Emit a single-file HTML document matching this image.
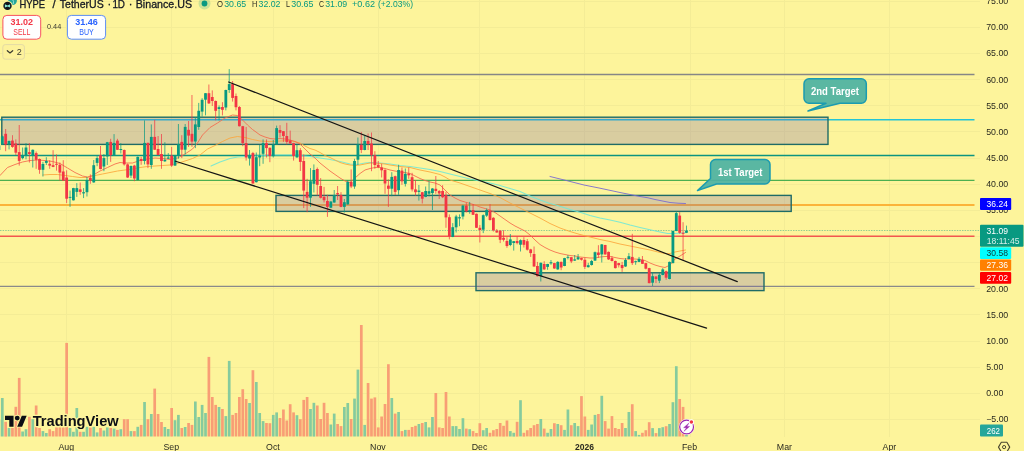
<!DOCTYPE html>
<html><head><meta charset="utf-8"><title>HYPE / TetherUS chart</title>
<style>
html,body{margin:0;padding:0;background:#fdf49b;overflow:hidden}
body{width:1024px;height:451px;position:relative;font-family:"Liberation Sans",sans-serif}
svg{position:absolute;left:0;top:0;display:block;will-change:transform;opacity:0.999}
text{font-family:"Liberation Sans",sans-serif}
</style></head><body>
<svg width="1024" height="451" viewBox="0 0 1024 451">
<rect width="1024" height="451" fill="#fdf49b"/>

<g stroke="#f4ec96" stroke-width="1">
<line x1="66.5" y1="0" x2="66.5" y2="437"/>
<line x1="171.5" y1="0" x2="171.5" y2="437"/>
<line x1="273.5" y1="0" x2="273.5" y2="437"/>
<line x1="378.5" y1="0" x2="378.5" y2="437"/>
<line x1="479.5" y1="0" x2="479.5" y2="437"/>
<line x1="584.5" y1="0" x2="584.5" y2="437"/>
<line x1="690.5" y1="0" x2="690.5" y2="437"/>
<line x1="784.5" y1="0" x2="784.5" y2="437"/>
<line x1="889.5" y1="0" x2="889.5" y2="437"/>
<line x1="0" y1="419.5" x2="980" y2="419.5"/>
<line x1="0" y1="393.5" x2="980" y2="393.5"/>
<line x1="0" y1="367.5" x2="980" y2="367.5"/>
<line x1="0" y1="341.5" x2="980" y2="341.5"/>
<line x1="0" y1="314.5" x2="980" y2="314.5"/>
<line x1="0" y1="288.5" x2="980" y2="288.5"/>
<line x1="0" y1="262.5" x2="980" y2="262.5"/>
<line x1="0" y1="236.5" x2="980" y2="236.5"/>
<line x1="0" y1="210.5" x2="980" y2="210.5"/>
<line x1="0" y1="184.5" x2="980" y2="184.5"/>
<line x1="0" y1="158.5" x2="980" y2="158.5"/>
<line x1="0" y1="131.5" x2="980" y2="131.5"/>
<line x1="0" y1="105.5" x2="980" y2="105.5"/>
<line x1="0" y1="79.5" x2="980" y2="79.5"/>
<line x1="0" y1="53.5" x2="980" y2="53.5"/>
<line x1="0" y1="27.5" x2="980" y2="27.5"/>
<line x1="0" y1="1.5" x2="980" y2="1.5"/>
</g>
<g>
<rect x="-2.45" y="420.0" width="2.7" height="16.5" fill="#86cb9d"/>
<rect x="0.94" y="398.0" width="2.7" height="38.5" fill="#86cb9d"/>
<rect x="4.32" y="421.8" width="2.7" height="14.8" fill="#f89e75"/>
<rect x="7.71" y="428.0" width="2.7" height="8.5" fill="#86cb9d"/>
<rect x="11.10" y="428.0" width="2.7" height="8.5" fill="#f89e75"/>
<rect x="14.48" y="406.8" width="2.7" height="29.8" fill="#f89e75"/>
<rect x="17.87" y="377.9" width="2.7" height="58.6" fill="#f89e75"/>
<rect x="21.26" y="431.5" width="2.7" height="5.0" fill="#86cb9d"/>
<rect x="24.65" y="429.2" width="2.7" height="7.2" fill="#86cb9d"/>
<rect x="28.03" y="416.8" width="2.7" height="19.8" fill="#f89e75"/>
<rect x="31.42" y="419.2" width="2.7" height="17.2" fill="#86cb9d"/>
<rect x="34.81" y="405.5" width="2.7" height="31.0" fill="#f89e75"/>
<rect x="38.19" y="428.0" width="2.7" height="8.5" fill="#f89e75"/>
<rect x="41.58" y="431.1" width="2.7" height="5.4" fill="#86cb9d"/>
<rect x="44.97" y="433.0" width="2.7" height="3.5" fill="#86cb9d"/>
<rect x="48.35" y="429.2" width="2.7" height="7.2" fill="#f89e75"/>
<rect x="51.74" y="431.1" width="2.7" height="5.4" fill="#f89e75"/>
<rect x="55.13" y="427.4" width="2.7" height="9.1" fill="#f89e75"/>
<rect x="58.52" y="427.4" width="2.7" height="9.1" fill="#f89e75"/>
<rect x="61.90" y="427.4" width="2.7" height="9.1" fill="#f89e75"/>
<rect x="65.29" y="342.9" width="2.7" height="93.6" fill="#f89e75"/>
<rect x="68.68" y="428.0" width="2.7" height="8.5" fill="#86cb9d"/>
<rect x="72.06" y="431.8" width="2.7" height="4.8" fill="#86cb9d"/>
<rect x="75.45" y="408.0" width="2.7" height="28.5" fill="#86cb9d"/>
<rect x="78.84" y="431.8" width="2.7" height="4.8" fill="#f89e75"/>
<rect x="82.22" y="431.8" width="2.7" height="4.8" fill="#86cb9d"/>
<rect x="85.61" y="426.8" width="2.7" height="9.8" fill="#86cb9d"/>
<rect x="89.00" y="427.4" width="2.7" height="9.1" fill="#f89e75"/>
<rect x="92.39" y="426.8" width="2.7" height="9.8" fill="#86cb9d"/>
<rect x="95.77" y="432.4" width="2.7" height="4.1" fill="#86cb9d"/>
<rect x="99.16" y="428.0" width="2.7" height="8.5" fill="#f89e75"/>
<rect x="102.55" y="430.5" width="2.7" height="6.0" fill="#86cb9d"/>
<rect x="105.93" y="427.4" width="2.7" height="9.1" fill="#86cb9d"/>
<rect x="109.32" y="428.0" width="2.7" height="8.5" fill="#f89e75"/>
<rect x="112.71" y="428.6" width="2.7" height="7.9" fill="#86cb9d"/>
<rect x="116.09" y="429.9" width="2.7" height="6.6" fill="#f89e75"/>
<rect x="119.48" y="429.2" width="2.7" height="7.2" fill="#86cb9d"/>
<rect x="122.87" y="419.2" width="2.7" height="17.2" fill="#f89e75"/>
<rect x="126.26" y="419.2" width="2.7" height="17.2" fill="#f89e75"/>
<rect x="129.64" y="431.1" width="2.7" height="5.4" fill="#86cb9d"/>
<rect x="133.03" y="431.1" width="2.7" height="5.4" fill="#f89e75"/>
<rect x="136.42" y="426.8" width="2.7" height="9.8" fill="#86cb9d"/>
<rect x="139.80" y="424.9" width="2.7" height="11.6" fill="#f89e75"/>
<rect x="143.19" y="402.0" width="2.7" height="34.5" fill="#86cb9d"/>
<rect x="146.58" y="419.2" width="2.7" height="17.2" fill="#f89e75"/>
<rect x="149.96" y="414.0" width="2.7" height="22.5" fill="#86cb9d"/>
<rect x="153.35" y="388.6" width="2.7" height="47.9" fill="#f89e75"/>
<rect x="156.74" y="414.0" width="2.7" height="22.5" fill="#f89e75"/>
<rect x="160.13" y="422.0" width="2.7" height="14.5" fill="#f89e75"/>
<rect x="163.51" y="427.0" width="2.7" height="9.5" fill="#86cb9d"/>
<rect x="166.90" y="429.0" width="2.7" height="7.5" fill="#86cb9d"/>
<rect x="170.29" y="408.0" width="2.7" height="28.5" fill="#f89e75"/>
<rect x="173.67" y="420.2" width="2.7" height="16.2" fill="#86cb9d"/>
<rect x="177.06" y="414.9" width="2.7" height="21.6" fill="#86cb9d"/>
<rect x="180.45" y="428.0" width="2.7" height="8.5" fill="#f89e75"/>
<rect x="183.83" y="427.0" width="2.7" height="9.5" fill="#86cb9d"/>
<rect x="187.22" y="423.0" width="2.7" height="13.5" fill="#f89e75"/>
<rect x="190.61" y="424.9" width="2.7" height="11.6" fill="#f89e75"/>
<rect x="194.00" y="401.5" width="2.7" height="35.0" fill="#86cb9d"/>
<rect x="197.38" y="417.0" width="2.7" height="19.5" fill="#86cb9d"/>
<rect x="200.77" y="404.9" width="2.7" height="31.6" fill="#86cb9d"/>
<rect x="204.16" y="413.0" width="2.7" height="23.5" fill="#86cb9d"/>
<rect x="207.54" y="356.9" width="2.7" height="79.6" fill="#f89e75"/>
<rect x="210.93" y="397.0" width="2.7" height="39.5" fill="#f89e75"/>
<rect x="214.32" y="404.9" width="2.7" height="31.6" fill="#f89e75"/>
<rect x="217.70" y="407.0" width="2.7" height="29.5" fill="#86cb9d"/>
<rect x="221.09" y="409.0" width="2.7" height="27.5" fill="#f89e75"/>
<rect x="224.48" y="416.1" width="2.7" height="20.4" fill="#86cb9d"/>
<rect x="227.87" y="360.9" width="2.7" height="75.6" fill="#86cb9d"/>
<rect x="231.25" y="414.9" width="2.7" height="21.6" fill="#f89e75"/>
<rect x="234.64" y="413.0" width="2.7" height="23.5" fill="#f89e75"/>
<rect x="238.03" y="397.0" width="2.7" height="39.5" fill="#f89e75"/>
<rect x="241.41" y="389.2" width="2.7" height="47.2" fill="#f89e75"/>
<rect x="244.80" y="399.0" width="2.7" height="37.5" fill="#f89e75"/>
<rect x="248.19" y="403.0" width="2.7" height="33.5" fill="#86cb9d"/>
<rect x="251.57" y="370.2" width="2.7" height="66.3" fill="#f89e75"/>
<rect x="254.96" y="382.0" width="2.7" height="54.5" fill="#86cb9d"/>
<rect x="258.35" y="413.0" width="2.7" height="23.5" fill="#86cb9d"/>
<rect x="261.74" y="421.1" width="2.7" height="15.4" fill="#86cb9d"/>
<rect x="265.12" y="423.0" width="2.7" height="13.5" fill="#f89e75"/>
<rect x="268.51" y="423.2" width="2.7" height="13.2" fill="#f89e75"/>
<rect x="271.90" y="414.9" width="2.7" height="21.6" fill="#86cb9d"/>
<rect x="275.28" y="412.4" width="2.7" height="24.1" fill="#86cb9d"/>
<rect x="278.67" y="418.0" width="2.7" height="18.5" fill="#f89e75"/>
<rect x="282.06" y="409.5" width="2.7" height="27.0" fill="#f89e75"/>
<rect x="285.44" y="420.5" width="2.7" height="16.0" fill="#f89e75"/>
<rect x="288.83" y="404.2" width="2.7" height="32.2" fill="#f89e75"/>
<rect x="292.22" y="412.4" width="2.7" height="24.1" fill="#f89e75"/>
<rect x="295.61" y="415.2" width="2.7" height="21.2" fill="#86cb9d"/>
<rect x="298.99" y="419.2" width="2.7" height="17.2" fill="#f89e75"/>
<rect x="302.38" y="399.9" width="2.7" height="36.6" fill="#f89e75"/>
<rect x="305.77" y="397.0" width="2.7" height="39.5" fill="#f89e75"/>
<rect x="309.15" y="409.0" width="2.7" height="27.5" fill="#86cb9d"/>
<rect x="312.54" y="402.8" width="2.7" height="33.8" fill="#86cb9d"/>
<rect x="315.93" y="405.5" width="2.7" height="31.0" fill="#f89e75"/>
<rect x="319.31" y="419.0" width="2.7" height="17.5" fill="#f89e75"/>
<rect x="322.70" y="402.8" width="2.7" height="33.8" fill="#f89e75"/>
<rect x="326.09" y="413.0" width="2.7" height="23.5" fill="#f89e75"/>
<rect x="329.48" y="424.5" width="2.7" height="12.0" fill="#86cb9d"/>
<rect x="332.86" y="413.6" width="2.7" height="22.9" fill="#86cb9d"/>
<rect x="336.25" y="424.0" width="2.7" height="12.5" fill="#f89e75"/>
<rect x="339.64" y="426.1" width="2.7" height="10.4" fill="#f89e75"/>
<rect x="343.02" y="407.0" width="2.7" height="29.5" fill="#86cb9d"/>
<rect x="346.41" y="403.0" width="2.7" height="33.5" fill="#86cb9d"/>
<rect x="349.80" y="419.0" width="2.7" height="17.5" fill="#f89e75"/>
<rect x="353.18" y="398.6" width="2.7" height="37.9" fill="#86cb9d"/>
<rect x="356.57" y="369.6" width="2.7" height="66.9" fill="#86cb9d"/>
<rect x="359.96" y="325.0" width="2.7" height="111.5" fill="#f89e75"/>
<rect x="363.35" y="424.9" width="2.7" height="11.6" fill="#86cb9d"/>
<rect x="366.73" y="383.0" width="2.7" height="53.5" fill="#f89e75"/>
<rect x="370.12" y="398.6" width="2.7" height="37.9" fill="#f89e75"/>
<rect x="373.51" y="397.4" width="2.7" height="39.1" fill="#f89e75"/>
<rect x="376.89" y="427.4" width="2.7" height="9.1" fill="#f89e75"/>
<rect x="380.28" y="416.5" width="2.7" height="20.0" fill="#f89e75"/>
<rect x="383.67" y="404.0" width="2.7" height="32.5" fill="#f89e75"/>
<rect x="387.05" y="364.2" width="2.7" height="72.3" fill="#f89e75"/>
<rect x="390.44" y="398.0" width="2.7" height="38.5" fill="#86cb9d"/>
<rect x="393.83" y="413.6" width="2.7" height="22.9" fill="#f89e75"/>
<rect x="397.22" y="412.0" width="2.7" height="24.5" fill="#86cb9d"/>
<rect x="400.60" y="431.1" width="2.7" height="5.4" fill="#f89e75"/>
<rect x="403.99" y="429.9" width="2.7" height="6.6" fill="#86cb9d"/>
<rect x="407.38" y="429.9" width="2.7" height="6.6" fill="#f89e75"/>
<rect x="410.76" y="427.0" width="2.7" height="9.5" fill="#f89e75"/>
<rect x="414.15" y="425.8" width="2.7" height="10.8" fill="#f89e75"/>
<rect x="417.54" y="424.0" width="2.7" height="12.5" fill="#86cb9d"/>
<rect x="420.92" y="423.0" width="2.7" height="13.5" fill="#f89e75"/>
<rect x="424.31" y="422.0" width="2.7" height="14.5" fill="#86cb9d"/>
<rect x="427.70" y="427.4" width="2.7" height="9.1" fill="#86cb9d"/>
<rect x="431.09" y="417.0" width="2.7" height="19.5" fill="#86cb9d"/>
<rect x="434.47" y="393.0" width="2.7" height="43.5" fill="#f89e75"/>
<rect x="437.86" y="427.4" width="2.7" height="9.1" fill="#f89e75"/>
<rect x="441.25" y="428.0" width="2.7" height="8.5" fill="#f89e75"/>
<rect x="444.63" y="392.0" width="2.7" height="44.5" fill="#f89e75"/>
<rect x="448.02" y="416.5" width="2.7" height="20.0" fill="#f89e75"/>
<rect x="451.41" y="426.1" width="2.7" height="10.4" fill="#86cb9d"/>
<rect x="454.79" y="426.1" width="2.7" height="10.4" fill="#86cb9d"/>
<rect x="458.18" y="429.0" width="2.7" height="7.5" fill="#86cb9d"/>
<rect x="461.57" y="418.2" width="2.7" height="18.2" fill="#86cb9d"/>
<rect x="464.95" y="428.6" width="2.7" height="7.9" fill="#f89e75"/>
<rect x="468.34" y="429.2" width="2.7" height="7.2" fill="#86cb9d"/>
<rect x="471.73" y="431.1" width="2.7" height="5.4" fill="#f89e75"/>
<rect x="475.12" y="433.0" width="2.7" height="3.5" fill="#f89e75"/>
<rect x="478.50" y="423.2" width="2.7" height="13.2" fill="#f89e75"/>
<rect x="481.89" y="430.2" width="2.7" height="6.2" fill="#86cb9d"/>
<rect x="485.28" y="428.0" width="2.7" height="8.5" fill="#86cb9d"/>
<rect x="488.66" y="432.8" width="2.7" height="3.8" fill="#f89e75"/>
<rect x="492.05" y="430.2" width="2.7" height="6.2" fill="#f89e75"/>
<rect x="495.44" y="429.0" width="2.7" height="7.5" fill="#f89e75"/>
<rect x="498.82" y="423.0" width="2.7" height="13.5" fill="#f89e75"/>
<rect x="502.21" y="425.8" width="2.7" height="10.8" fill="#f89e75"/>
<rect x="505.60" y="420.5" width="2.7" height="16.0" fill="#f89e75"/>
<rect x="508.99" y="431.1" width="2.7" height="5.4" fill="#86cb9d"/>
<rect x="512.37" y="432.8" width="2.7" height="3.8" fill="#86cb9d"/>
<rect x="515.76" y="421.8" width="2.7" height="14.8" fill="#f89e75"/>
<rect x="519.15" y="400.2" width="2.7" height="36.2" fill="#86cb9d"/>
<rect x="522.53" y="432.8" width="2.7" height="3.8" fill="#f89e75"/>
<rect x="525.92" y="430.2" width="2.7" height="6.2" fill="#f89e75"/>
<rect x="529.31" y="428.0" width="2.7" height="8.5" fill="#f89e75"/>
<rect x="532.70" y="425.2" width="2.7" height="11.2" fill="#f89e75"/>
<rect x="536.08" y="424.0" width="2.7" height="12.5" fill="#f89e75"/>
<rect x="539.47" y="419.0" width="2.7" height="17.5" fill="#86cb9d"/>
<rect x="542.86" y="428.6" width="2.7" height="7.9" fill="#f89e75"/>
<rect x="546.24" y="432.8" width="2.7" height="3.8" fill="#86cb9d"/>
<rect x="549.63" y="429.0" width="2.7" height="7.5" fill="#86cb9d"/>
<rect x="553.02" y="423.2" width="2.7" height="13.2" fill="#f89e75"/>
<rect x="556.40" y="424.0" width="2.7" height="12.5" fill="#86cb9d"/>
<rect x="559.79" y="425.2" width="2.7" height="11.2" fill="#f89e75"/>
<rect x="563.18" y="429.9" width="2.7" height="6.6" fill="#86cb9d"/>
<rect x="566.57" y="409.5" width="2.7" height="27.0" fill="#86cb9d"/>
<rect x="569.95" y="425.2" width="2.7" height="11.2" fill="#f89e75"/>
<rect x="573.34" y="423.0" width="2.7" height="13.5" fill="#86cb9d"/>
<rect x="576.73" y="426.1" width="2.7" height="10.4" fill="#86cb9d"/>
<rect x="580.11" y="396.1" width="2.7" height="40.4" fill="#f89e75"/>
<rect x="583.50" y="416.5" width="2.7" height="20.0" fill="#f89e75"/>
<rect x="586.89" y="429.9" width="2.7" height="6.6" fill="#86cb9d"/>
<rect x="590.27" y="424.5" width="2.7" height="12.0" fill="#86cb9d"/>
<rect x="593.66" y="414.9" width="2.7" height="21.6" fill="#86cb9d"/>
<rect x="597.05" y="414.0" width="2.7" height="22.5" fill="#f89e75"/>
<rect x="600.43" y="395.8" width="2.7" height="40.8" fill="#86cb9d"/>
<rect x="603.82" y="421.1" width="2.7" height="15.4" fill="#f89e75"/>
<rect x="607.21" y="428.6" width="2.7" height="7.9" fill="#f89e75"/>
<rect x="610.60" y="416.1" width="2.7" height="20.4" fill="#f89e75"/>
<rect x="613.98" y="428.0" width="2.7" height="8.5" fill="#f89e75"/>
<rect x="617.37" y="429.0" width="2.7" height="7.5" fill="#f89e75"/>
<rect x="620.76" y="423.0" width="2.7" height="13.5" fill="#f89e75"/>
<rect x="624.14" y="428.0" width="2.7" height="8.5" fill="#86cb9d"/>
<rect x="627.53" y="412.0" width="2.7" height="24.5" fill="#86cb9d"/>
<rect x="630.92" y="404.2" width="2.7" height="32.2" fill="#f89e75"/>
<rect x="634.30" y="431.1" width="2.7" height="5.4" fill="#86cb9d"/>
<rect x="637.69" y="434.9" width="2.7" height="1.6" fill="#86cb9d"/>
<rect x="641.08" y="432.8" width="2.7" height="3.8" fill="#f89e75"/>
<rect x="644.47" y="430.2" width="2.7" height="6.2" fill="#f89e75"/>
<rect x="647.85" y="422.2" width="2.7" height="14.2" fill="#f89e75"/>
<rect x="651.24" y="428.1" width="2.7" height="8.4" fill="#86cb9d"/>
<rect x="654.63" y="433.1" width="2.7" height="3.4" fill="#f89e75"/>
<rect x="658.01" y="428.1" width="2.7" height="8.4" fill="#86cb9d"/>
<rect x="661.40" y="427.2" width="2.7" height="9.2" fill="#86cb9d"/>
<rect x="664.79" y="426.2" width="2.7" height="10.2" fill="#f89e75"/>
<rect x="668.17" y="424.0" width="2.7" height="12.5" fill="#86cb9d"/>
<rect x="671.56" y="402.2" width="2.7" height="34.2" fill="#86cb9d"/>
<rect x="674.95" y="366.2" width="2.7" height="70.3" fill="#86cb9d"/>
<rect x="678.34" y="399.0" width="2.7" height="37.5" fill="#f89e75"/>
<rect x="681.72" y="406.9" width="2.7" height="29.6" fill="#f89e75"/>
<rect x="685.11" y="435.0" width="2.7" height="1.5" fill="#86cb9d"/>
</g>
<line x1="0" y1="74.5" x2="974.5" y2="74.5" stroke="#868686" stroke-width="1.4"/>
<line x1="0" y1="119.7" x2="974.5" y2="119.7" stroke="#22c4d6" stroke-width="1.4"/>
<line x1="0" y1="155.5" x2="974.5" y2="155.5" stroke="#0c9480" stroke-width="1.3"/>
<line x1="0" y1="180.4" x2="974.5" y2="180.4" stroke="#4caf50" stroke-width="1.3"/>
<line x1="0" y1="205" x2="974.5" y2="205" stroke="#fbb339" stroke-width="2.2"/>
<line x1="0" y1="236.2" x2="974.5" y2="236.2" stroke="#f2574f" stroke-width="1.6"/>
<line x1="0" y1="286.3" x2="974.5" y2="286.3" stroke="#8a8a8a" stroke-width="1.3"/>
<line x1="0" y1="230.5" x2="980" y2="230.5" stroke="#089981" stroke-width="1" stroke-dasharray="1.5 1.1" opacity="0.42"/>
<rect x="1.8" y="117.2" width="826.2" height="27.200000000000003" fill="#7159af" fill-opacity="0.25" stroke="#1f6b66" stroke-width="1.4"/>
<rect x="276" y="195.4" width="515.2" height="16.0" fill="#7159af" fill-opacity="0.25" stroke="#1f6b66" stroke-width="1.4"/>
<rect x="476" y="272.8" width="288" height="17.80000000000001" fill="#7159af" fill-opacity="0.25" stroke="#1f6b66" stroke-width="1.4"/>
<polyline points="211.0,166.0 220.0,162.0 230.0,158.5 237.5,157.0 245.0,156.5 256.0,156.0 270.0,155.0 280.0,155.0 290.0,155.0 300.0,155.5 310.0,156.5 320.0,158.0 330.0,159.5 340.0,161.5 350.0,164.0 355.0,164.5 360.0,164.0 365.0,163.0 370.0,162.5 380.0,163.0 390.0,164.0 400.0,165.5 410.0,166.5 420.0,168.0 430.0,169.5 440.0,171.5 450.0,174.0 460.0,176.5 470.0,179.0 480.0,181.0 490.0,183.0 500.0,185.5 510.0,188.5 520.0,191.5 530.0,196.0 540.0,200.0 550.0,203.5 557.5,205.5 570.0,209.5 582.5,213.0 590.0,215.5 600.0,218.0 610.0,220.0 620.0,222.2 630.0,225.0 640.0,227.5 651.0,230.0 660.0,232.0 667.5,233.5 675.0,233.5 685.5,232.8" fill="none" stroke="#72e8d6" stroke-width="1.05" stroke-linejoin="round" stroke-linecap="round" opacity="0.9"/>
<polyline points="43.0,175.0 50.0,174.5 57.5,174.5 65.0,175.5 72.5,176.5 80.0,177.5 87.5,177.5 95.0,175.5 102.5,174.0 110.0,172.5 117.5,171.0 125.0,170.0 132.5,169.0 140.0,167.5 147.5,166.5 155.0,166.0 162.5,165.5 170.0,165.0 177.5,163.5 185.0,161.0 192.5,158.5 200.0,155.0 207.5,149.0 215.0,145.5 222.5,141.5 230.0,138.0 237.5,136.5 245.0,137.5 252.5,139.5 260.0,141.0 270.0,141.5 280.0,141.0 290.0,140.5 300.0,143.0 305.0,146.0 310.0,148.5 315.0,150.0 320.0,152.5 325.0,155.5 330.0,157.5 335.0,160.0 340.0,162.5 345.0,164.0 350.0,165.0 355.0,165.5 360.0,165.0 365.0,164.0 370.0,163.0 375.0,163.0 380.0,163.5 385.0,164.0 390.0,165.0 400.0,166.5 410.0,167.5 420.0,170.0 430.0,172.0 440.0,174.5 445.0,177.0 450.0,180.0 455.0,181.5 460.0,183.0 470.0,186.5 480.0,190.0 490.0,193.5 500.0,197.5 510.0,203.0 520.0,208.0 530.0,213.0 540.0,218.0 550.0,223.5 560.0,228.0 570.0,231.5 580.0,234.5 590.0,237.0 600.0,239.5 610.0,241.5 620.0,244.0 630.0,246.0 640.0,248.0 650.0,250.0 660.0,252.5 665.0,253.5 670.0,253.5 675.0,252.0 680.0,251.0 685.5,250.0" fill="none" stroke="#fca63c" stroke-width="0.95" stroke-linejoin="round" stroke-linecap="round" opacity="0.9"/>
<polyline points="0.0,175.5 7.5,167.5 15.0,164.5 22.5,162.0 30.0,160.5 37.5,160.0 45.0,160.5 52.5,161.5 60.0,163.5 67.5,168.0 75.0,172.5 82.5,176.0 87.5,177.0 92.5,175.5 100.0,171.0 107.5,167.5 115.0,164.0 120.0,162.5 125.0,163.0 132.5,163.0 140.0,160.5 147.5,159.0 155.0,158.0 162.5,158.5 170.0,159.5 177.5,158.0 185.0,154.0 192.5,149.0 197.5,143.0 202.5,135.0 210.0,127.5 217.5,123.0 225.0,118.0 232.5,115.0 237.5,115.5 242.5,120.0 247.5,125.0 252.5,129.5 256.0,132.0 260.0,135.0 265.0,137.0 270.0,138.5 275.0,139.0 280.0,138.5 285.0,139.0 290.0,140.0 295.0,141.5 300.0,144.0 305.0,149.0 310.0,154.0 315.0,158.0 320.0,163.0 325.0,167.0 330.0,171.0 335.0,174.5 340.0,178.0 345.0,181.0 350.0,182.5 355.0,178.0 360.0,173.5 365.0,170.0 370.0,168.5 375.0,167.5 380.0,167.5 385.0,168.5 390.0,170.0 395.0,171.0 400.0,172.0 405.0,172.5 410.0,173.5 415.0,176.0 420.0,178.5 425.0,180.5 430.0,182.0 435.0,183.0 440.0,185.0 445.0,190.0 450.0,195.0 455.0,198.0 460.0,200.5 465.0,202.0 470.0,203.5 475.0,205.0 480.0,207.0 485.0,208.5 490.0,210.0 495.0,212.5 500.0,216.0 505.0,219.5 510.0,223.0 515.0,226.0 520.0,228.5 525.0,231.0 530.0,235.0 535.0,240.0 540.0,244.5 545.0,247.5 550.0,250.0 555.0,252.0 560.0,253.5 565.0,254.5 570.0,255.5 575.0,256.0 580.0,257.0 585.0,257.5 590.0,258.0 595.0,258.0 600.0,257.0 605.0,256.5 610.0,256.5 615.0,257.5 620.0,258.5 625.0,259.0 630.0,259.0 635.0,259.0 640.0,259.5 645.0,260.5 650.0,263.0 655.0,265.0 660.0,266.5 665.0,267.5 670.0,265.0 675.0,259.0 680.0,256.0 685.5,252.5" fill="none" stroke="#f4694c" stroke-width="0.95" stroke-linejoin="round" stroke-linecap="round" opacity="0.9"/>
<polyline points="550.0,176.5 565.0,180.2 584.0,185.0 600.0,188.2 620.0,192.5 640.0,196.5 648.0,197.8 655.0,199.5 670.0,202.5 678.0,203.2 685.5,203.5" fill="none" stroke="#7a6cd0" stroke-width="1.0" stroke-linejoin="round" stroke-linecap="round" opacity="0.9"/>
<g>
<line x1="-1.10" y1="145.0" x2="-1.10" y2="150.5" stroke="#089981" stroke-width="0.9" opacity="0.82"/>
<rect x="-2.50" y="145.5" width="2.8" height="4.5" fill="#089981"/>
<line x1="2.29" y1="135.5" x2="2.29" y2="145.0" stroke="#089981" stroke-width="0.9" opacity="0.82"/>
<rect x="0.89" y="136.3" width="2.8" height="8.1" fill="#089981"/>
<line x1="5.67" y1="129.0" x2="5.67" y2="151.2" stroke="#f23645" stroke-width="0.9" opacity="0.82"/>
<rect x="4.27" y="133.8" width="2.8" height="10.7" fill="#f23645"/>
<line x1="9.06" y1="140.5" x2="9.06" y2="149.4" stroke="#089981" stroke-width="0.9" opacity="0.82"/>
<rect x="7.66" y="141.0" width="2.8" height="3.4" fill="#089981"/>
<line x1="12.45" y1="135.2" x2="12.45" y2="147.8" stroke="#f23645" stroke-width="0.9" opacity="0.82"/>
<rect x="11.05" y="140.6" width="2.8" height="6.3" fill="#f23645"/>
<line x1="15.83" y1="139.4" x2="15.83" y2="155.0" stroke="#f23645" stroke-width="0.9" opacity="0.82"/>
<rect x="14.43" y="143.5" width="2.8" height="9.2" fill="#f23645"/>
<line x1="19.22" y1="125.0" x2="19.22" y2="165.6" stroke="#f23645" stroke-width="0.9" opacity="0.82"/>
<rect x="17.82" y="152.1" width="2.8" height="8.8" fill="#f23645"/>
<line x1="22.61" y1="147.5" x2="22.61" y2="159.4" stroke="#089981" stroke-width="0.9" opacity="0.82"/>
<rect x="21.21" y="155.6" width="2.8" height="2.5" fill="#089981"/>
<line x1="26.00" y1="143.1" x2="26.00" y2="159.4" stroke="#089981" stroke-width="0.9" opacity="0.82"/>
<rect x="24.60" y="147.5" width="2.8" height="8.1" fill="#089981"/>
<line x1="29.38" y1="143.1" x2="29.38" y2="162.5" stroke="#f23645" stroke-width="0.9" opacity="0.82"/>
<rect x="27.98" y="152.1" width="2.8" height="1.9" fill="#f23645"/>
<line x1="32.77" y1="149.4" x2="32.77" y2="167.5" stroke="#089981" stroke-width="0.9" opacity="0.82"/>
<rect x="31.37" y="149.8" width="2.8" height="5.8" fill="#089981"/>
<line x1="36.16" y1="151.5" x2="36.16" y2="168.8" stroke="#f23645" stroke-width="0.9" opacity="0.82"/>
<rect x="34.76" y="153.1" width="2.8" height="6.7" fill="#f23645"/>
<line x1="39.54" y1="158.5" x2="39.54" y2="173.8" stroke="#f23645" stroke-width="0.9" opacity="0.82"/>
<rect x="38.14" y="159.0" width="2.8" height="10.8" fill="#f23645"/>
<line x1="42.93" y1="161.9" x2="42.93" y2="176.5" stroke="#089981" stroke-width="0.9" opacity="0.82"/>
<rect x="41.53" y="164.0" width="2.8" height="5.8" fill="#089981"/>
<line x1="46.32" y1="157.2" x2="46.32" y2="165.0" stroke="#089981" stroke-width="0.9" opacity="0.82"/>
<rect x="44.92" y="161.0" width="2.8" height="1.9" fill="#089981"/>
<line x1="49.70" y1="160.2" x2="49.70" y2="168.8" stroke="#f23645" stroke-width="0.9" opacity="0.82"/>
<rect x="48.30" y="163.8" width="2.8" height="1.8" fill="#f23645"/>
<line x1="53.09" y1="150.2" x2="53.09" y2="167.2" stroke="#f23645" stroke-width="0.9" opacity="0.82"/>
<rect x="51.69" y="165.2" width="2.8" height="1.7" fill="#f23645"/>
<line x1="56.48" y1="154.4" x2="56.48" y2="170.6" stroke="#f23645" stroke-width="0.9" opacity="0.82"/>
<rect x="55.08" y="163.8" width="2.8" height="1.0" fill="#f23645"/>
<line x1="59.87" y1="162.5" x2="59.87" y2="180.6" stroke="#f23645" stroke-width="0.9" opacity="0.82"/>
<rect x="58.47" y="164.8" width="2.8" height="7.8" fill="#f23645"/>
<line x1="63.25" y1="160.2" x2="63.25" y2="181.0" stroke="#f23645" stroke-width="0.9" opacity="0.82"/>
<rect x="61.85" y="171.5" width="2.8" height="9.1" fill="#f23645"/>
<line x1="66.64" y1="170.3" x2="66.64" y2="203.1" stroke="#f23645" stroke-width="0.9" opacity="0.82"/>
<rect x="65.24" y="177.5" width="2.8" height="21.2" fill="#f23645"/>
<line x1="70.03" y1="190.6" x2="70.03" y2="206.9" stroke="#089981" stroke-width="0.9" opacity="0.82"/>
<rect x="68.63" y="196.9" width="2.8" height="0.9" fill="#089981"/>
<line x1="73.41" y1="187.8" x2="73.41" y2="200.5" stroke="#089981" stroke-width="0.9" opacity="0.82"/>
<rect x="72.01" y="188.1" width="2.8" height="12.2" fill="#089981"/>
<line x1="76.80" y1="183.1" x2="76.80" y2="196.9" stroke="#089981" stroke-width="0.9" opacity="0.82"/>
<rect x="75.40" y="188.1" width="2.8" height="3.8" fill="#089981"/>
<line x1="80.19" y1="182.5" x2="80.19" y2="194.8" stroke="#f23645" stroke-width="0.9" opacity="0.82"/>
<rect x="78.79" y="189.4" width="2.8" height="2.5" fill="#f23645"/>
<line x1="83.57" y1="188.1" x2="83.57" y2="198.1" stroke="#089981" stroke-width="0.9" opacity="0.82"/>
<rect x="82.17" y="192.2" width="2.8" height="1.2" fill="#089981"/>
<line x1="86.96" y1="176.9" x2="86.96" y2="196.5" stroke="#089981" stroke-width="0.9" opacity="0.82"/>
<rect x="85.56" y="180.0" width="2.8" height="12.2" fill="#089981"/>
<line x1="90.35" y1="174.4" x2="90.35" y2="183.8" stroke="#f23645" stroke-width="0.9" opacity="0.82"/>
<rect x="88.95" y="177.8" width="2.8" height="2.8" fill="#f23645"/>
<line x1="93.74" y1="160.0" x2="93.74" y2="182.8" stroke="#089981" stroke-width="0.9" opacity="0.82"/>
<rect x="92.34" y="165.2" width="2.8" height="17.2" fill="#089981"/>
<line x1="97.12" y1="156.2" x2="97.12" y2="166.2" stroke="#089981" stroke-width="0.9" opacity="0.82"/>
<rect x="95.72" y="158.1" width="2.8" height="4.8" fill="#089981"/>
<line x1="100.51" y1="146.0" x2="100.51" y2="169.4" stroke="#f23645" stroke-width="0.9" opacity="0.82"/>
<rect x="99.11" y="155.2" width="2.8" height="13.8" fill="#f23645"/>
<line x1="103.90" y1="154.0" x2="103.90" y2="171.2" stroke="#089981" stroke-width="0.9" opacity="0.82"/>
<rect x="102.50" y="158.1" width="2.8" height="8.4" fill="#089981"/>
<line x1="107.28" y1="141.9" x2="107.28" y2="165.0" stroke="#089981" stroke-width="0.9" opacity="0.82"/>
<rect x="105.88" y="142.2" width="2.8" height="14.2" fill="#089981"/>
<line x1="110.67" y1="138.8" x2="110.67" y2="161.9" stroke="#f23645" stroke-width="0.9" opacity="0.82"/>
<rect x="109.27" y="141.9" width="2.8" height="13.3" fill="#f23645"/>
<line x1="114.06" y1="134.1" x2="114.06" y2="155.5" stroke="#089981" stroke-width="0.9" opacity="0.82"/>
<rect x="112.66" y="142.9" width="2.8" height="12.3" fill="#089981"/>
<line x1="117.44" y1="138.8" x2="117.44" y2="150.0" stroke="#f23645" stroke-width="0.9" opacity="0.82"/>
<rect x="116.04" y="140.6" width="2.8" height="9.2" fill="#f23645"/>
<line x1="120.83" y1="143.1" x2="120.83" y2="153.5" stroke="#089981" stroke-width="0.9" opacity="0.82"/>
<rect x="119.43" y="149.0" width="2.8" height="1.0" fill="#089981"/>
<line x1="124.22" y1="149.5" x2="124.22" y2="165.6" stroke="#f23645" stroke-width="0.9" opacity="0.82"/>
<rect x="122.82" y="150.0" width="2.8" height="14.4" fill="#f23645"/>
<line x1="127.61" y1="163.5" x2="127.61" y2="178.0" stroke="#f23645" stroke-width="0.9" opacity="0.82"/>
<rect x="126.21" y="164.4" width="2.8" height="13.1" fill="#f23645"/>
<line x1="130.99" y1="165.5" x2="130.99" y2="178.0" stroke="#089981" stroke-width="0.9" opacity="0.82"/>
<rect x="129.59" y="166.0" width="2.8" height="9.6" fill="#089981"/>
<line x1="134.38" y1="164.8" x2="134.38" y2="181.2" stroke="#f23645" stroke-width="0.9" opacity="0.82"/>
<rect x="132.98" y="165.6" width="2.8" height="12.9" fill="#f23645"/>
<line x1="137.77" y1="156.5" x2="137.77" y2="180.3" stroke="#089981" stroke-width="0.9" opacity="0.82"/>
<rect x="136.37" y="156.9" width="2.8" height="23.1" fill="#089981"/>
<line x1="141.15" y1="156.9" x2="141.15" y2="164.8" stroke="#f23645" stroke-width="0.9" opacity="0.82"/>
<rect x="139.75" y="159.0" width="2.8" height="2.0" fill="#f23645"/>
<line x1="144.54" y1="120.4" x2="144.54" y2="164.4" stroke="#089981" stroke-width="0.9" opacity="0.82"/>
<rect x="143.14" y="142.9" width="2.8" height="18.1" fill="#089981"/>
<line x1="147.93" y1="142.5" x2="147.93" y2="168.1" stroke="#f23645" stroke-width="0.9" opacity="0.82"/>
<rect x="146.53" y="142.9" width="2.8" height="21.5" fill="#f23645"/>
<line x1="151.31" y1="124.4" x2="151.31" y2="168.8" stroke="#089981" stroke-width="0.9" opacity="0.82"/>
<rect x="149.91" y="136.9" width="2.8" height="28.1" fill="#089981"/>
<line x1="154.70" y1="119.8" x2="154.70" y2="150.0" stroke="#f23645" stroke-width="0.9" opacity="0.82"/>
<rect x="153.30" y="136.9" width="2.8" height="12.8" fill="#f23645"/>
<line x1="158.09" y1="136.0" x2="158.09" y2="155.3" stroke="#f23645" stroke-width="0.9" opacity="0.82"/>
<rect x="156.69" y="149.0" width="2.8" height="6.0" fill="#f23645"/>
<line x1="161.48" y1="134.0" x2="161.48" y2="168.8" stroke="#f23645" stroke-width="0.9" opacity="0.82"/>
<rect x="160.08" y="154.0" width="2.8" height="7.0" fill="#f23645"/>
<line x1="164.86" y1="142.2" x2="164.86" y2="161.9" stroke="#089981" stroke-width="0.9" opacity="0.82"/>
<rect x="163.46" y="159.8" width="2.8" height="1.5" fill="#089981"/>
<line x1="168.25" y1="153.1" x2="168.25" y2="159.0" stroke="#089981" stroke-width="0.9" opacity="0.82"/>
<rect x="166.85" y="157.5" width="2.8" height="1.2" fill="#089981"/>
<line x1="171.64" y1="146.9" x2="171.64" y2="166.9" stroke="#f23645" stroke-width="0.9" opacity="0.82"/>
<rect x="170.24" y="155.6" width="2.8" height="10.0" fill="#f23645"/>
<line x1="175.02" y1="155.3" x2="175.02" y2="165.9" stroke="#089981" stroke-width="0.9" opacity="0.82"/>
<rect x="173.62" y="155.6" width="2.8" height="10.0" fill="#089981"/>
<line x1="178.41" y1="124.0" x2="178.41" y2="158.8" stroke="#089981" stroke-width="0.9" opacity="0.82"/>
<rect x="177.01" y="144.0" width="2.8" height="11.6" fill="#089981"/>
<line x1="181.80" y1="135.2" x2="181.80" y2="158.1" stroke="#f23645" stroke-width="0.9" opacity="0.82"/>
<rect x="180.40" y="141.9" width="2.8" height="7.8" fill="#f23645"/>
<line x1="185.18" y1="124.0" x2="185.18" y2="154.4" stroke="#089981" stroke-width="0.9" opacity="0.82"/>
<rect x="183.78" y="126.9" width="2.8" height="22.8" fill="#089981"/>
<line x1="188.57" y1="121.0" x2="188.57" y2="146.9" stroke="#f23645" stroke-width="0.9" opacity="0.82"/>
<rect x="187.17" y="129.8" width="2.8" height="5.8" fill="#f23645"/>
<line x1="191.96" y1="95.0" x2="191.96" y2="146.9" stroke="#f23645" stroke-width="0.9" opacity="0.82"/>
<rect x="190.56" y="133.8" width="2.8" height="7.8" fill="#f23645"/>
<line x1="195.35" y1="117.0" x2="195.35" y2="148.1" stroke="#089981" stroke-width="0.9" opacity="0.82"/>
<rect x="193.95" y="124.4" width="2.8" height="17.1" fill="#089981"/>
<line x1="198.73" y1="102.9" x2="198.73" y2="129.8" stroke="#089981" stroke-width="0.9" opacity="0.82"/>
<rect x="197.33" y="110.8" width="2.8" height="16.2" fill="#089981"/>
<line x1="202.12" y1="98.2" x2="202.12" y2="116.6" stroke="#089981" stroke-width="0.9" opacity="0.82"/>
<rect x="200.72" y="99.8" width="2.8" height="11.8" fill="#089981"/>
<line x1="205.51" y1="93.0" x2="205.51" y2="115.4" stroke="#089981" stroke-width="0.9" opacity="0.82"/>
<rect x="204.11" y="93.2" width="2.8" height="6.5" fill="#089981"/>
<line x1="208.89" y1="84.5" x2="208.89" y2="104.0" stroke="#f23645" stroke-width="0.9" opacity="0.82"/>
<rect x="207.49" y="93.2" width="2.8" height="10.2" fill="#f23645"/>
<line x1="212.28" y1="90.4" x2="212.28" y2="106.0" stroke="#f23645" stroke-width="0.9" opacity="0.82"/>
<rect x="210.88" y="97.0" width="2.8" height="4.0" fill="#f23645"/>
<line x1="215.67" y1="100.5" x2="215.67" y2="120.4" stroke="#f23645" stroke-width="0.9" opacity="0.82"/>
<rect x="214.27" y="101.0" width="2.8" height="9.8" fill="#f23645"/>
<line x1="219.05" y1="105.4" x2="219.05" y2="120.4" stroke="#089981" stroke-width="0.9" opacity="0.82"/>
<rect x="217.65" y="107.2" width="2.8" height="1.8" fill="#089981"/>
<line x1="222.44" y1="102.2" x2="222.44" y2="115.4" stroke="#f23645" stroke-width="0.9" opacity="0.82"/>
<rect x="221.04" y="107.0" width="2.8" height="2.8" fill="#f23645"/>
<line x1="225.83" y1="89.7" x2="225.83" y2="110.4" stroke="#089981" stroke-width="0.9" opacity="0.82"/>
<rect x="224.43" y="90.0" width="2.8" height="17.5" fill="#089981"/>
<line x1="229.22" y1="69.1" x2="229.22" y2="92.9" stroke="#089981" stroke-width="0.9" opacity="0.82"/>
<rect x="227.82" y="84.1" width="2.8" height="5.9" fill="#089981"/>
<line x1="232.60" y1="81.0" x2="232.60" y2="101.6" stroke="#f23645" stroke-width="0.9" opacity="0.82"/>
<rect x="231.20" y="84.1" width="2.8" height="13.8" fill="#f23645"/>
<line x1="235.99" y1="93.5" x2="235.99" y2="110.4" stroke="#f23645" stroke-width="0.9" opacity="0.82"/>
<rect x="234.59" y="96.0" width="2.8" height="11.2" fill="#f23645"/>
<line x1="239.38" y1="106.0" x2="239.38" y2="126.5" stroke="#f23645" stroke-width="0.9" opacity="0.82"/>
<rect x="237.98" y="107.0" width="2.8" height="19.2" fill="#f23645"/>
<line x1="242.76" y1="125.9" x2="242.76" y2="146.2" stroke="#f23645" stroke-width="0.9" opacity="0.82"/>
<rect x="241.36" y="126.2" width="2.8" height="16.8" fill="#f23645"/>
<line x1="246.15" y1="126.9" x2="246.15" y2="160.6" stroke="#f23645" stroke-width="0.9" opacity="0.82"/>
<rect x="244.75" y="143.1" width="2.8" height="14.4" fill="#f23645"/>
<line x1="249.54" y1="150.0" x2="249.54" y2="165.6" stroke="#089981" stroke-width="0.9" opacity="0.82"/>
<rect x="248.14" y="155.6" width="2.8" height="2.9" fill="#089981"/>
<line x1="252.92" y1="151.9" x2="252.92" y2="183.8" stroke="#f23645" stroke-width="0.9" opacity="0.82"/>
<rect x="251.52" y="153.1" width="2.8" height="30.4" fill="#f23645"/>
<line x1="256.31" y1="152.5" x2="256.31" y2="182.5" stroke="#089981" stroke-width="0.9" opacity="0.82"/>
<rect x="254.91" y="157.2" width="2.8" height="25.0" fill="#089981"/>
<line x1="259.70" y1="145.0" x2="259.70" y2="166.2" stroke="#089981" stroke-width="0.9" opacity="0.82"/>
<rect x="258.30" y="155.6" width="2.8" height="1.9" fill="#089981"/>
<line x1="263.09" y1="139.4" x2="263.09" y2="163.8" stroke="#089981" stroke-width="0.9" opacity="0.82"/>
<rect x="261.69" y="143.1" width="2.8" height="10.7" fill="#089981"/>
<line x1="266.47" y1="139.4" x2="266.47" y2="157.5" stroke="#f23645" stroke-width="0.9" opacity="0.82"/>
<rect x="265.07" y="143.1" width="2.8" height="5.0" fill="#f23645"/>
<line x1="269.86" y1="147.4" x2="269.86" y2="162.2" stroke="#f23645" stroke-width="0.9" opacity="0.82"/>
<rect x="268.46" y="147.8" width="2.8" height="8.2" fill="#f23645"/>
<line x1="273.25" y1="140.0" x2="273.25" y2="157.5" stroke="#089981" stroke-width="0.9" opacity="0.82"/>
<rect x="271.85" y="144.4" width="2.8" height="11.8" fill="#089981"/>
<line x1="276.63" y1="125.6" x2="276.63" y2="144.7" stroke="#089981" stroke-width="0.9" opacity="0.82"/>
<rect x="275.23" y="128.1" width="2.8" height="16.3" fill="#089981"/>
<line x1="280.02" y1="125.2" x2="280.02" y2="137.5" stroke="#f23645" stroke-width="0.9" opacity="0.82"/>
<rect x="278.62" y="130.0" width="2.8" height="2.8" fill="#f23645"/>
<line x1="283.41" y1="131.0" x2="283.41" y2="141.9" stroke="#f23645" stroke-width="0.9" opacity="0.82"/>
<rect x="282.01" y="131.2" width="2.8" height="4.8" fill="#f23645"/>
<line x1="286.79" y1="122.8" x2="286.79" y2="144.4" stroke="#f23645" stroke-width="0.9" opacity="0.82"/>
<rect x="285.39" y="136.0" width="2.8" height="5.9" fill="#f23645"/>
<line x1="290.18" y1="130.6" x2="290.18" y2="143.8" stroke="#f23645" stroke-width="0.9" opacity="0.82"/>
<rect x="288.78" y="140.6" width="2.8" height="2.9" fill="#f23645"/>
<line x1="293.57" y1="142.8" x2="293.57" y2="160.6" stroke="#f23645" stroke-width="0.9" opacity="0.82"/>
<rect x="292.17" y="143.1" width="2.8" height="12.9" fill="#f23645"/>
<line x1="296.96" y1="145.0" x2="296.96" y2="157.8" stroke="#089981" stroke-width="0.9" opacity="0.82"/>
<rect x="295.56" y="150.2" width="2.8" height="7.2" fill="#089981"/>
<line x1="300.34" y1="148.1" x2="300.34" y2="171.0" stroke="#f23645" stroke-width="0.9" opacity="0.82"/>
<rect x="298.94" y="150.2" width="2.8" height="11.7" fill="#f23645"/>
<line x1="303.73" y1="154.4" x2="303.73" y2="208.1" stroke="#f23645" stroke-width="0.9" opacity="0.82"/>
<rect x="302.33" y="161.0" width="2.8" height="29.6" fill="#f23645"/>
<line x1="307.12" y1="178.8" x2="307.12" y2="212.2" stroke="#f23645" stroke-width="0.9" opacity="0.82"/>
<rect x="305.72" y="191.9" width="2.8" height="5.8" fill="#f23645"/>
<line x1="310.50" y1="168.1" x2="310.50" y2="206.9" stroke="#089981" stroke-width="0.9" opacity="0.82"/>
<rect x="309.10" y="181.2" width="2.8" height="16.5" fill="#089981"/>
<line x1="313.89" y1="164.4" x2="313.89" y2="192.5" stroke="#089981" stroke-width="0.9" opacity="0.82"/>
<rect x="312.49" y="170.0" width="2.8" height="13.8" fill="#089981"/>
<line x1="317.28" y1="167.5" x2="317.28" y2="195.6" stroke="#f23645" stroke-width="0.9" opacity="0.82"/>
<rect x="315.88" y="169.0" width="2.8" height="15.8" fill="#f23645"/>
<line x1="320.66" y1="178.1" x2="320.66" y2="198.5" stroke="#f23645" stroke-width="0.9" opacity="0.82"/>
<rect x="319.26" y="186.0" width="2.8" height="11.8" fill="#f23645"/>
<line x1="324.05" y1="186.9" x2="324.05" y2="202.5" stroke="#f23645" stroke-width="0.9" opacity="0.82"/>
<rect x="322.65" y="196.9" width="2.8" height="3.3" fill="#f23645"/>
<line x1="327.44" y1="194.8" x2="327.44" y2="216.9" stroke="#f23645" stroke-width="0.9" opacity="0.82"/>
<rect x="326.04" y="201.0" width="2.8" height="5.9" fill="#f23645"/>
<line x1="330.83" y1="201.2" x2="330.83" y2="208.1" stroke="#089981" stroke-width="0.9" opacity="0.82"/>
<rect x="329.43" y="201.5" width="2.8" height="6.2" fill="#089981"/>
<line x1="334.21" y1="190.0" x2="334.21" y2="202.8" stroke="#089981" stroke-width="0.9" opacity="0.82"/>
<rect x="332.81" y="195.0" width="2.8" height="7.5" fill="#089981"/>
<line x1="337.60" y1="186.0" x2="337.60" y2="200.0" stroke="#f23645" stroke-width="0.9" opacity="0.82"/>
<rect x="336.20" y="193.1" width="2.8" height="1.3" fill="#f23645"/>
<line x1="340.99" y1="192.2" x2="340.99" y2="207.2" stroke="#f23645" stroke-width="0.9" opacity="0.82"/>
<rect x="339.59" y="195.0" width="2.8" height="11.9" fill="#f23645"/>
<line x1="344.37" y1="199.0" x2="344.37" y2="212.5" stroke="#089981" stroke-width="0.9" opacity="0.82"/>
<rect x="342.97" y="202.2" width="2.8" height="4.7" fill="#089981"/>
<line x1="347.76" y1="180.0" x2="347.76" y2="204.7" stroke="#089981" stroke-width="0.9" opacity="0.82"/>
<rect x="346.36" y="181.9" width="2.8" height="22.5" fill="#089981"/>
<line x1="351.15" y1="169.4" x2="351.15" y2="188.1" stroke="#f23645" stroke-width="0.9" opacity="0.82"/>
<rect x="349.75" y="181.9" width="2.8" height="4.6" fill="#f23645"/>
<line x1="354.53" y1="158.8" x2="354.53" y2="188.8" stroke="#089981" stroke-width="0.9" opacity="0.82"/>
<rect x="353.13" y="161.0" width="2.8" height="25.5" fill="#089981"/>
<line x1="357.92" y1="137.5" x2="357.92" y2="165.0" stroke="#089981" stroke-width="0.9" opacity="0.82"/>
<rect x="356.52" y="144.4" width="2.8" height="15.3" fill="#089981"/>
<line x1="361.31" y1="131.9" x2="361.31" y2="153.1" stroke="#f23645" stroke-width="0.9" opacity="0.82"/>
<rect x="359.91" y="144.8" width="2.8" height="5.2" fill="#f23645"/>
<line x1="364.70" y1="135.6" x2="364.70" y2="150.3" stroke="#089981" stroke-width="0.9" opacity="0.82"/>
<rect x="363.30" y="141.0" width="2.8" height="9.0" fill="#089981"/>
<line x1="368.08" y1="133.5" x2="368.08" y2="150.0" stroke="#f23645" stroke-width="0.9" opacity="0.82"/>
<rect x="366.68" y="141.0" width="2.8" height="3.0" fill="#f23645"/>
<line x1="371.47" y1="132.5" x2="371.47" y2="171.2" stroke="#f23645" stroke-width="0.9" opacity="0.82"/>
<rect x="370.07" y="143.5" width="2.8" height="11.8" fill="#f23645"/>
<line x1="374.86" y1="151.2" x2="374.86" y2="168.8" stroke="#f23645" stroke-width="0.9" opacity="0.82"/>
<rect x="373.46" y="155.2" width="2.8" height="9.8" fill="#f23645"/>
<line x1="378.24" y1="161.0" x2="378.24" y2="168.1" stroke="#f23645" stroke-width="0.9" opacity="0.82"/>
<rect x="376.84" y="164.8" width="2.8" height="2.2" fill="#f23645"/>
<line x1="381.63" y1="163.8" x2="381.63" y2="177.5" stroke="#f23645" stroke-width="0.9" opacity="0.82"/>
<rect x="380.23" y="167.5" width="2.8" height="2.8" fill="#f23645"/>
<line x1="385.02" y1="168.8" x2="385.02" y2="193.8" stroke="#f23645" stroke-width="0.9" opacity="0.82"/>
<rect x="383.62" y="170.0" width="2.8" height="13.5" fill="#f23645"/>
<line x1="388.40" y1="179.4" x2="388.40" y2="206.9" stroke="#f23645" stroke-width="0.9" opacity="0.82"/>
<rect x="387.00" y="185.6" width="2.8" height="3.2" fill="#f23645"/>
<line x1="391.79" y1="172.2" x2="391.79" y2="196.2" stroke="#089981" stroke-width="0.9" opacity="0.82"/>
<rect x="390.39" y="176.9" width="2.8" height="11.8" fill="#089981"/>
<line x1="395.18" y1="175.6" x2="395.18" y2="195.0" stroke="#f23645" stroke-width="0.9" opacity="0.82"/>
<rect x="393.78" y="176.2" width="2.8" height="15.7" fill="#f23645"/>
<line x1="398.57" y1="164.8" x2="398.57" y2="194.8" stroke="#089981" stroke-width="0.9" opacity="0.82"/>
<rect x="397.17" y="170.0" width="2.8" height="20.2" fill="#089981"/>
<line x1="401.95" y1="167.5" x2="401.95" y2="184.8" stroke="#f23645" stroke-width="0.9" opacity="0.82"/>
<rect x="400.55" y="170.6" width="2.8" height="10.7" fill="#f23645"/>
<line x1="405.34" y1="168.5" x2="405.34" y2="186.5" stroke="#089981" stroke-width="0.9" opacity="0.82"/>
<rect x="403.94" y="173.8" width="2.8" height="10.0" fill="#089981"/>
<line x1="408.73" y1="167.5" x2="408.73" y2="178.8" stroke="#f23645" stroke-width="0.9" opacity="0.82"/>
<rect x="407.33" y="173.5" width="2.8" height="1.8" fill="#f23645"/>
<line x1="412.11" y1="172.8" x2="412.11" y2="191.5" stroke="#f23645" stroke-width="0.9" opacity="0.82"/>
<rect x="410.71" y="177.2" width="2.8" height="12.2" fill="#f23645"/>
<line x1="415.50" y1="180.0" x2="415.50" y2="195.6" stroke="#f23645" stroke-width="0.9" opacity="0.82"/>
<rect x="414.10" y="189.4" width="2.8" height="2.8" fill="#f23645"/>
<line x1="418.89" y1="185.0" x2="418.89" y2="200.6" stroke="#089981" stroke-width="0.9" opacity="0.82"/>
<rect x="417.49" y="190.6" width="2.8" height="1.3" fill="#089981"/>
<line x1="422.27" y1="191.9" x2="422.27" y2="203.5" stroke="#f23645" stroke-width="0.9" opacity="0.82"/>
<rect x="420.87" y="192.2" width="2.8" height="6.5" fill="#f23645"/>
<line x1="425.66" y1="186.5" x2="425.66" y2="197.2" stroke="#089981" stroke-width="0.9" opacity="0.82"/>
<rect x="424.26" y="191.0" width="2.8" height="5.9" fill="#089981"/>
<line x1="429.05" y1="181.2" x2="429.05" y2="196.5" stroke="#089981" stroke-width="0.9" opacity="0.82"/>
<rect x="427.65" y="191.2" width="2.8" height="2.5" fill="#089981"/>
<line x1="432.44" y1="188.1" x2="432.44" y2="210.0" stroke="#089981" stroke-width="0.9" opacity="0.82"/>
<rect x="431.04" y="188.5" width="2.8" height="4.6" fill="#089981"/>
<line x1="435.82" y1="176.0" x2="435.82" y2="193.8" stroke="#f23645" stroke-width="0.9" opacity="0.82"/>
<rect x="434.42" y="188.8" width="2.8" height="2.2" fill="#f23645"/>
<line x1="439.21" y1="190.0" x2="439.21" y2="199.0" stroke="#f23645" stroke-width="0.9" opacity="0.82"/>
<rect x="437.81" y="191.0" width="2.8" height="2.5" fill="#f23645"/>
<line x1="442.60" y1="185.2" x2="442.60" y2="198.1" stroke="#f23645" stroke-width="0.9" opacity="0.82"/>
<rect x="441.20" y="191.0" width="2.8" height="6.2" fill="#f23645"/>
<line x1="445.98" y1="191.9" x2="445.98" y2="227.8" stroke="#f23645" stroke-width="0.9" opacity="0.82"/>
<rect x="444.58" y="195.2" width="2.8" height="22.2" fill="#f23645"/>
<line x1="449.37" y1="214.4" x2="449.37" y2="239.4" stroke="#f23645" stroke-width="0.9" opacity="0.82"/>
<rect x="447.97" y="217.2" width="2.8" height="19.0" fill="#f23645"/>
<line x1="452.76" y1="223.1" x2="452.76" y2="237.2" stroke="#089981" stroke-width="0.9" opacity="0.82"/>
<rect x="451.36" y="227.2" width="2.8" height="9.7" fill="#089981"/>
<line x1="456.14" y1="214.8" x2="456.14" y2="232.5" stroke="#089981" stroke-width="0.9" opacity="0.82"/>
<rect x="454.74" y="216.5" width="2.8" height="10.8" fill="#089981"/>
<line x1="459.53" y1="214.4" x2="459.53" y2="226.2" stroke="#089981" stroke-width="0.9" opacity="0.82"/>
<rect x="458.13" y="217.2" width="2.8" height="1.2" fill="#089981"/>
<line x1="462.92" y1="204.8" x2="462.92" y2="219.4" stroke="#089981" stroke-width="0.9" opacity="0.82"/>
<rect x="461.52" y="205.6" width="2.8" height="10.9" fill="#089981"/>
<line x1="466.31" y1="202.8" x2="466.31" y2="212.5" stroke="#f23645" stroke-width="0.9" opacity="0.82"/>
<rect x="464.91" y="205.6" width="2.8" height="5.7" fill="#f23645"/>
<line x1="469.69" y1="201.9" x2="469.69" y2="213.8" stroke="#089981" stroke-width="0.9" opacity="0.82"/>
<rect x="468.29" y="210.2" width="2.8" height="1.2" fill="#089981"/>
<line x1="473.08" y1="204.0" x2="473.08" y2="215.0" stroke="#f23645" stroke-width="0.9" opacity="0.82"/>
<rect x="471.68" y="210.0" width="2.8" height="4.8" fill="#f23645"/>
<line x1="476.47" y1="213.5" x2="476.47" y2="228.0" stroke="#f23645" stroke-width="0.9" opacity="0.82"/>
<rect x="475.07" y="213.8" width="2.8" height="14.0" fill="#f23645"/>
<line x1="479.85" y1="225.0" x2="479.85" y2="242.5" stroke="#f23645" stroke-width="0.9" opacity="0.82"/>
<rect x="478.45" y="227.8" width="2.8" height="2.2" fill="#f23645"/>
<line x1="483.24" y1="214.4" x2="483.24" y2="233.1" stroke="#089981" stroke-width="0.9" opacity="0.82"/>
<rect x="481.84" y="215.2" width="2.8" height="14.5" fill="#089981"/>
<line x1="486.63" y1="208.5" x2="486.63" y2="216.9" stroke="#089981" stroke-width="0.9" opacity="0.82"/>
<rect x="485.23" y="210.0" width="2.8" height="5.6" fill="#089981"/>
<line x1="490.01" y1="204.0" x2="490.01" y2="220.6" stroke="#f23645" stroke-width="0.9" opacity="0.82"/>
<rect x="488.61" y="210.6" width="2.8" height="9.4" fill="#f23645"/>
<line x1="493.40" y1="217.2" x2="493.40" y2="231.5" stroke="#f23645" stroke-width="0.9" opacity="0.82"/>
<rect x="492.00" y="217.8" width="2.8" height="12.5" fill="#f23645"/>
<line x1="496.79" y1="229.0" x2="496.79" y2="232.8" stroke="#f23645" stroke-width="0.9" opacity="0.82"/>
<rect x="495.39" y="230.6" width="2.8" height="1.9" fill="#f23645"/>
<line x1="500.18" y1="230.3" x2="500.18" y2="243.1" stroke="#f23645" stroke-width="0.9" opacity="0.82"/>
<rect x="498.78" y="230.6" width="2.8" height="9.2" fill="#f23645"/>
<line x1="503.56" y1="230.2" x2="503.56" y2="241.5" stroke="#f23645" stroke-width="0.9" opacity="0.82"/>
<rect x="502.16" y="237.8" width="2.8" height="2.0" fill="#f23645"/>
<line x1="506.95" y1="237.2" x2="506.95" y2="247.8" stroke="#f23645" stroke-width="0.9" opacity="0.82"/>
<rect x="505.55" y="241.0" width="2.8" height="5.0" fill="#f23645"/>
<line x1="510.34" y1="234.0" x2="510.34" y2="246.2" stroke="#089981" stroke-width="0.9" opacity="0.82"/>
<rect x="508.94" y="239.4" width="2.8" height="5.6" fill="#089981"/>
<line x1="513.72" y1="241.0" x2="513.72" y2="250.6" stroke="#089981" stroke-width="0.9" opacity="0.82"/>
<rect x="512.32" y="241.2" width="2.8" height="1.8" fill="#089981"/>
<line x1="517.11" y1="236.5" x2="517.11" y2="244.4" stroke="#f23645" stroke-width="0.9" opacity="0.82"/>
<rect x="515.71" y="241.0" width="2.8" height="2.1" fill="#f23645"/>
<line x1="520.50" y1="239.4" x2="520.50" y2="251.5" stroke="#089981" stroke-width="0.9" opacity="0.82"/>
<rect x="519.10" y="240.2" width="2.8" height="4.5" fill="#089981"/>
<line x1="523.88" y1="237.2" x2="523.88" y2="247.5" stroke="#f23645" stroke-width="0.9" opacity="0.82"/>
<rect x="522.48" y="240.0" width="2.8" height="4.8" fill="#f23645"/>
<line x1="527.27" y1="239.0" x2="527.27" y2="250.6" stroke="#f23645" stroke-width="0.9" opacity="0.82"/>
<rect x="525.87" y="241.2" width="2.8" height="8.5" fill="#f23645"/>
<line x1="530.66" y1="248.8" x2="530.66" y2="256.9" stroke="#f23645" stroke-width="0.9" opacity="0.82"/>
<rect x="529.26" y="249.4" width="2.8" height="3.7" fill="#f23645"/>
<line x1="534.05" y1="246.5" x2="534.05" y2="266.8" stroke="#f23645" stroke-width="0.9" opacity="0.82"/>
<rect x="532.65" y="254.0" width="2.8" height="12.5" fill="#f23645"/>
<line x1="537.43" y1="261.9" x2="537.43" y2="276.5" stroke="#f23645" stroke-width="0.9" opacity="0.82"/>
<rect x="536.03" y="266.0" width="2.8" height="10.2" fill="#f23645"/>
<line x1="540.82" y1="262.5" x2="540.82" y2="281.5" stroke="#089981" stroke-width="0.9" opacity="0.82"/>
<rect x="539.42" y="262.8" width="2.8" height="13.2" fill="#089981"/>
<line x1="544.21" y1="261.2" x2="544.21" y2="269.8" stroke="#f23645" stroke-width="0.9" opacity="0.82"/>
<rect x="542.81" y="264.0" width="2.8" height="5.4" fill="#f23645"/>
<line x1="547.59" y1="263.8" x2="547.59" y2="269.8" stroke="#089981" stroke-width="0.9" opacity="0.82"/>
<rect x="546.19" y="264.0" width="2.8" height="2.9" fill="#089981"/>
<line x1="550.98" y1="260.0" x2="550.98" y2="264.8" stroke="#089981" stroke-width="0.9" opacity="0.82"/>
<rect x="549.58" y="262.2" width="2.8" height="1.2" fill="#089981"/>
<line x1="554.37" y1="262.8" x2="554.37" y2="268.8" stroke="#f23645" stroke-width="0.9" opacity="0.82"/>
<rect x="552.97" y="263.1" width="2.8" height="5.4" fill="#f23645"/>
<line x1="557.75" y1="261.2" x2="557.75" y2="269.8" stroke="#089981" stroke-width="0.9" opacity="0.82"/>
<rect x="556.35" y="261.9" width="2.8" height="7.5" fill="#089981"/>
<line x1="561.14" y1="261.5" x2="561.14" y2="270.2" stroke="#f23645" stroke-width="0.9" opacity="0.82"/>
<rect x="559.74" y="261.9" width="2.8" height="5.6" fill="#f23645"/>
<line x1="564.53" y1="257.8" x2="564.53" y2="266.2" stroke="#089981" stroke-width="0.9" opacity="0.82"/>
<rect x="563.13" y="258.1" width="2.8" height="7.9" fill="#089981"/>
<line x1="567.92" y1="255.0" x2="567.92" y2="259.4" stroke="#089981" stroke-width="0.9" opacity="0.82"/>
<rect x="566.52" y="256.9" width="2.8" height="0.9" fill="#089981"/>
<line x1="571.30" y1="256.9" x2="571.30" y2="263.1" stroke="#f23645" stroke-width="0.9" opacity="0.82"/>
<rect x="569.90" y="257.2" width="2.8" height="4.2" fill="#f23645"/>
<line x1="574.69" y1="255.0" x2="574.69" y2="261.0" stroke="#089981" stroke-width="0.9" opacity="0.82"/>
<rect x="573.29" y="259.4" width="2.8" height="1.2" fill="#089981"/>
<line x1="578.08" y1="254.0" x2="578.08" y2="260.0" stroke="#089981" stroke-width="0.9" opacity="0.82"/>
<rect x="576.68" y="257.2" width="2.8" height="2.1" fill="#089981"/>
<line x1="581.46" y1="257.8" x2="581.46" y2="260.6" stroke="#f23645" stroke-width="0.9" opacity="0.82"/>
<rect x="580.06" y="258.1" width="2.8" height="1.6" fill="#f23645"/>
<line x1="584.85" y1="257.8" x2="584.85" y2="269.0" stroke="#f23645" stroke-width="0.9" opacity="0.82"/>
<rect x="583.45" y="259.8" width="2.8" height="7.1" fill="#f23645"/>
<line x1="588.24" y1="262.8" x2="588.24" y2="267.5" stroke="#089981" stroke-width="0.9" opacity="0.82"/>
<rect x="586.84" y="265.2" width="2.8" height="2.0" fill="#089981"/>
<line x1="591.62" y1="259.8" x2="591.62" y2="265.6" stroke="#089981" stroke-width="0.9" opacity="0.82"/>
<rect x="590.22" y="261.0" width="2.8" height="4.0" fill="#089981"/>
<line x1="595.01" y1="251.5" x2="595.01" y2="261.0" stroke="#089981" stroke-width="0.9" opacity="0.82"/>
<rect x="593.61" y="252.2" width="2.8" height="8.4" fill="#089981"/>
<line x1="598.40" y1="245.2" x2="598.40" y2="257.8" stroke="#f23645" stroke-width="0.9" opacity="0.82"/>
<rect x="597.00" y="252.5" width="2.8" height="2.5" fill="#f23645"/>
<line x1="601.78" y1="244.0" x2="601.78" y2="262.5" stroke="#089981" stroke-width="0.9" opacity="0.82"/>
<rect x="600.38" y="244.4" width="2.8" height="10.0" fill="#089981"/>
<line x1="605.17" y1="244.8" x2="605.17" y2="254.8" stroke="#f23645" stroke-width="0.9" opacity="0.82"/>
<rect x="603.77" y="245.0" width="2.8" height="9.4" fill="#f23645"/>
<line x1="608.56" y1="251.5" x2="608.56" y2="260.0" stroke="#f23645" stroke-width="0.9" opacity="0.82"/>
<rect x="607.16" y="251.9" width="2.8" height="7.5" fill="#f23645"/>
<line x1="611.95" y1="256.0" x2="611.95" y2="261.5" stroke="#f23645" stroke-width="0.9" opacity="0.82"/>
<rect x="610.55" y="258.1" width="2.8" height="2.9" fill="#f23645"/>
<line x1="615.33" y1="260.6" x2="615.33" y2="268.5" stroke="#f23645" stroke-width="0.9" opacity="0.82"/>
<rect x="613.93" y="261.0" width="2.8" height="7.1" fill="#f23645"/>
<line x1="618.72" y1="262.8" x2="618.72" y2="267.5" stroke="#f23645" stroke-width="0.9" opacity="0.82"/>
<rect x="617.32" y="263.1" width="2.8" height="2.1" fill="#f23645"/>
<line x1="622.11" y1="261.9" x2="622.11" y2="271.9" stroke="#f23645" stroke-width="0.9" opacity="0.82"/>
<rect x="620.71" y="265.0" width="2.8" height="3.1" fill="#f23645"/>
<line x1="625.49" y1="258.1" x2="625.49" y2="266.9" stroke="#089981" stroke-width="0.9" opacity="0.82"/>
<rect x="624.09" y="260.0" width="2.8" height="6.5" fill="#089981"/>
<line x1="628.88" y1="253.1" x2="628.88" y2="259.4" stroke="#089981" stroke-width="0.9" opacity="0.82"/>
<rect x="627.48" y="256.2" width="2.8" height="2.8" fill="#089981"/>
<line x1="632.27" y1="233.8" x2="632.27" y2="265.0" stroke="#f23645" stroke-width="0.9" opacity="0.82"/>
<rect x="630.87" y="256.9" width="2.8" height="6.2" fill="#f23645"/>
<line x1="635.65" y1="260.6" x2="635.65" y2="264.8" stroke="#089981" stroke-width="0.9" opacity="0.82"/>
<rect x="634.25" y="261.2" width="2.8" height="1.0" fill="#089981"/>
<line x1="639.04" y1="256.9" x2="639.04" y2="262.2" stroke="#089981" stroke-width="0.9" opacity="0.82"/>
<rect x="637.64" y="258.8" width="2.8" height="3.1" fill="#089981"/>
<line x1="642.43" y1="256.0" x2="642.43" y2="264.0" stroke="#f23645" stroke-width="0.9" opacity="0.82"/>
<rect x="641.03" y="259.8" width="2.8" height="4.0" fill="#f23645"/>
<line x1="645.82" y1="262.8" x2="645.82" y2="269.4" stroke="#f23645" stroke-width="0.9" opacity="0.82"/>
<rect x="644.42" y="263.1" width="2.8" height="5.6" fill="#f23645"/>
<line x1="649.20" y1="267.8" x2="649.20" y2="283.4" stroke="#f23645" stroke-width="0.9" opacity="0.82"/>
<rect x="647.80" y="268.1" width="2.8" height="15.0" fill="#f23645"/>
<line x1="652.59" y1="272.5" x2="652.59" y2="286.0" stroke="#089981" stroke-width="0.9" opacity="0.82"/>
<rect x="651.19" y="276.2" width="2.8" height="6.5" fill="#089981"/>
<line x1="655.98" y1="276.2" x2="655.98" y2="283.1" stroke="#f23645" stroke-width="0.9" opacity="0.82"/>
<rect x="654.58" y="276.5" width="2.8" height="2.5" fill="#f23645"/>
<line x1="659.36" y1="273.1" x2="659.36" y2="283.1" stroke="#089981" stroke-width="0.9" opacity="0.82"/>
<rect x="657.96" y="274.8" width="2.8" height="5.9" fill="#089981"/>
<line x1="662.75" y1="268.1" x2="662.75" y2="275.3" stroke="#089981" stroke-width="0.9" opacity="0.82"/>
<rect x="661.35" y="269.4" width="2.8" height="5.6" fill="#089981"/>
<line x1="666.14" y1="270.6" x2="666.14" y2="279.8" stroke="#f23645" stroke-width="0.9" opacity="0.82"/>
<rect x="664.74" y="271.2" width="2.8" height="6.5" fill="#f23645"/>
<line x1="669.52" y1="261.6" x2="669.52" y2="279.3" stroke="#089981" stroke-width="0.9" opacity="0.82"/>
<rect x="668.12" y="261.9" width="2.8" height="17.1" fill="#089981"/>
<line x1="672.91" y1="230.7" x2="672.91" y2="263.4" stroke="#089981" stroke-width="0.9" opacity="0.82"/>
<rect x="671.51" y="231.0" width="2.8" height="32.1" fill="#089981"/>
<line x1="676.30" y1="211.2" x2="676.30" y2="231.2" stroke="#089981" stroke-width="0.9" opacity="0.82"/>
<rect x="674.90" y="213.1" width="2.8" height="17.9" fill="#089981"/>
<line x1="679.69" y1="212.2" x2="679.69" y2="233.8" stroke="#f23645" stroke-width="0.9" opacity="0.82"/>
<rect x="678.29" y="215.6" width="2.8" height="17.2" fill="#f23645"/>
<line x1="683.07" y1="222.2" x2="683.07" y2="260.6" stroke="#f23645" stroke-width="0.9" opacity="0.82"/>
<rect x="681.67" y="232.8" width="2.8" height="1.0" fill="#f23645"/>
<line x1="686.46" y1="225.6" x2="686.46" y2="233.1" stroke="#089981" stroke-width="0.9" opacity="0.82"/>
<rect x="685.06" y="230.6" width="2.8" height="2.2" fill="#089981"/>
</g>
<line x1="228.6" y1="82" x2="737.3" y2="281.6" stroke="#141414" stroke-width="1.2" stroke-linecap="round"/>
<line x1="175.5" y1="161.2" x2="706.6" y2="328.1" stroke="#141414" stroke-width="1.2" stroke-linecap="round"/>
<path d="M809 78.8 H861.3 A5 5 0 0 1 866.3 83.8 V98.3 A5 5 0 0 1 861.3 103.3 H840 L808 111 L826 103.3 H809 A5 5 0 0 1 804 98.3 V83.8 A5 5 0 0 1 809 78.8 Z" fill="#4db1a2" fill-opacity="0.93" stroke="#1b9bb0" stroke-width="1.5" stroke-linejoin="round"/>
<text x="811" y="95.1" font-size="11.5" fill="#ffffff" font-weight="bold" text-anchor="start" textLength="48" lengthAdjust="spacingAndGlyphs">2nd Target</text>
<path d="M715.5 159.6 H765 A5 5 0 0 1 770 164.6 V179 A5 5 0 0 1 765 184 H716.5 L697.5 190.6 L710.5 178.5 V164.6 A5 5 0 0 1 715.5 159.6 Z" fill="#4db1a2" fill-opacity="0.93" stroke="#1b9bb0" stroke-width="1.5" stroke-linejoin="round"/>
<text x="718" y="175.8" font-size="11.5" fill="#ffffff" font-weight="bold" text-anchor="start" textLength="44.5" lengthAdjust="spacingAndGlyphs">1st Target</text>
<text x="986.2" y="422.3" font-size="8.8" fill="#2a2a20" font-weight="normal" text-anchor="start">−5.00</text>
<text x="986.2" y="396.2" font-size="8.8" fill="#2a2a20" font-weight="normal" text-anchor="start">0.00</text>
<text x="986.2" y="370.1" font-size="8.8" fill="#2a2a20" font-weight="normal" text-anchor="start">5.00</text>
<text x="986.2" y="343.9" font-size="8.8" fill="#2a2a20" font-weight="normal" text-anchor="start">10.00</text>
<text x="986.2" y="317.8" font-size="8.8" fill="#2a2a20" font-weight="normal" text-anchor="start">15.00</text>
<text x="986.2" y="291.6" font-size="8.8" fill="#2a2a20" font-weight="normal" text-anchor="start">20.00</text>
<text x="986.2" y="265.5" font-size="8.8" fill="#2a2a20" font-weight="normal" text-anchor="start">25.00</text>
<text x="986.2" y="239.3" font-size="8.8" fill="#2a2a20" font-weight="normal" text-anchor="start">30.00</text>
<text x="986.2" y="213.2" font-size="8.8" fill="#2a2a20" font-weight="normal" text-anchor="start">35.00</text>
<text x="986.2" y="187.1" font-size="8.8" fill="#2a2a20" font-weight="normal" text-anchor="start">40.00</text>
<text x="986.2" y="160.9" font-size="8.8" fill="#2a2a20" font-weight="normal" text-anchor="start">45.00</text>
<text x="986.2" y="134.8" font-size="8.8" fill="#2a2a20" font-weight="normal" text-anchor="start">50.00</text>
<text x="986.2" y="108.6" font-size="8.8" fill="#2a2a20" font-weight="normal" text-anchor="start">55.00</text>
<text x="986.2" y="82.5" font-size="8.8" fill="#2a2a20" font-weight="normal" text-anchor="start">60.00</text>
<text x="986.2" y="56.3" font-size="8.8" fill="#2a2a20" font-weight="normal" text-anchor="start">65.00</text>
<text x="986.2" y="30.2" font-size="8.8" fill="#2a2a20" font-weight="normal" text-anchor="start">70.00</text>
<text x="986.2" y="4.1" font-size="8.8" fill="#2a2a20" font-weight="normal" text-anchor="start">75.00</text>
<rect x="980" y="198" width="31.200000000000045" height="12" rx="1" fill="#0000ff"/>
<text x="1008" y="207.2" font-size="8.8" fill="#ffffff" font-weight="normal" text-anchor="end" textLength="21.4" lengthAdjust="spacingAndGlyphs">36.24</text>
<rect x="980" y="224.8" width="43.5" height="21.9" rx="1" fill="#089981"/>
<text x="1008" y="234.3" font-size="8.8" fill="#ffffff" font-weight="normal" text-anchor="end" textLength="21.4" lengthAdjust="spacingAndGlyphs">31.09</text>
<text x="1019.5" y="244.3" font-size="8.8" fill="#d6efe9" font-weight="normal" text-anchor="end" textLength="32.8" lengthAdjust="spacingAndGlyphs">18:11:45</text>
<rect x="980" y="247.2" width="31.200000000000045" height="11.699999999999989" rx="1" fill="#00ffff"/>
<text x="1008" y="256.2" font-size="8.8" fill="#0a3a3a" font-weight="normal" text-anchor="end" textLength="21.4" lengthAdjust="spacingAndGlyphs">30.58</text>
<rect x="980" y="259.5" width="31.200000000000045" height="11.300000000000011" rx="1" fill="#ff8000"/>
<text x="1008" y="268.3" font-size="8.8" fill="#ffffff" font-weight="normal" text-anchor="end" textLength="21.4" lengthAdjust="spacingAndGlyphs">27.36</text>
<rect x="980" y="272" width="31.200000000000045" height="11.699999999999989" rx="1" fill="#ff0000"/>
<text x="1008" y="281.1" font-size="8.8" fill="#ffffff" font-weight="normal" text-anchor="end" textLength="21.4" lengthAdjust="spacingAndGlyphs">27.02</text>
<rect x="980" y="424.5" width="23" height="12.0" rx="1" fill="#26a69a"/>
<text x="1000" y="433.9" font-size="8.8" fill="#ffffff" font-weight="normal" text-anchor="end" textLength="13.2" lengthAdjust="spacingAndGlyphs">262</text>
<text x="66.3" y="450.2" font-size="8.8" fill="#2a2a20" font-weight="normal" text-anchor="middle">Aug</text>
<text x="171.3" y="450.2" font-size="8.8" fill="#2a2a20" font-weight="normal" text-anchor="middle">Sep</text>
<text x="272.9" y="450.2" font-size="8.8" fill="#2a2a20" font-weight="normal" text-anchor="middle">Oct</text>
<text x="377.9" y="450.2" font-size="8.8" fill="#2a2a20" font-weight="normal" text-anchor="middle">Nov</text>
<text x="479.6" y="450.2" font-size="8.8" fill="#2a2a20" font-weight="normal" text-anchor="middle">Dec</text>
<text x="584.6" y="450.2" font-size="8.8" fill="#2a2a20" font-weight="bold" text-anchor="middle" textLength="19" lengthAdjust="spacingAndGlyphs">2026</text>
<text x="689.5" y="450.2" font-size="8.8" fill="#2a2a20" font-weight="normal" text-anchor="middle">Feb</text>
<text x="784.4" y="450.2" font-size="8.8" fill="#2a2a20" font-weight="normal" text-anchor="middle">Mar</text>
<text x="889.4" y="450.2" font-size="8.8" fill="#2a2a20" font-weight="normal" text-anchor="middle">Apr</text>
<polygon points="1009.7,447.1 1006.9,451.9 1001.3,451.9 998.5,447.1 1001.3,442.3 1006.9,442.3" fill="none" stroke="#4a4630" stroke-width="1.1" stroke-linejoin="round"/>
<circle cx="1004.1" cy="447.1" r="1.6" fill="none" stroke="#4a4630" stroke-width="1"/>
<circle cx="686.6" cy="427" r="7.9" fill="#ffffff"/>
<circle cx="686.6" cy="427" r="6.9" fill="#ffffff" stroke="#9c27b0" stroke-width="1.2"/>
<path d="M689.1 422.9 L683.6 427.7 L686.5 427.7 L684 431.3 L689.6 426.4 L686.8 426.4 Z" fill="#9c27b0" stroke="#9c27b0" stroke-width="0.4" stroke-linejoin="round"/>
<circle cx="691.4" cy="422" r="2.7" fill="#ffffff"/>
<circle cx="691.4" cy="422" r="1.8" fill="#f23645"/>
<g stroke="#fdf49b" stroke-width="2.6" stroke-linejoin="round" fill="#fdf49b">
<g transform="translate(5,413.2) scale(0.611)"><path d="M14 22H7V11H0V4h14v18zM28 22h-8l7.5-18h8L28 22z"/><circle cx="20" cy="8" r="4"/></g>
</g>
<g transform="translate(5,413.2) scale(0.611)" fill="#0c0e15"><path d="M14 22H7V11H0V4h14v18zM28 22h-8l7.5-18h8L28 22z"/><circle cx="20" cy="8" r="4"/></g>
<text x="32.7" y="426.3" font-size="13.8" fill="#0c0e15" font-weight="bold" text-anchor="start" textLength="86" lengthAdjust="spacingAndGlyphs" stroke="#fdf49b" stroke-width="2.6" stroke-linejoin="round" paint-order="stroke">TradingView</text>
<circle cx="12.6" cy="0.6" r="4.3" fill="#26a69a"/>
<path d="M12.2 -1 q2.2 2.2 1 5" stroke="#a6e4dc" stroke-width="0.9" fill="none"/>
<circle cx="7.5" cy="5.9" r="5.2" fill="#fdf49b"/>
<circle cx="7.5" cy="5.9" r="4.2" fill="#10151c"/>
<path d="M4.9 4.3 L7.5 5.4 L10.1 4.3 L10.1 7.5 L7.5 6.4 L4.9 7.5 Z" fill="#86ecd8"/>
<text x="19.4" y="7.8" font-size="11" fill="#131722" font-weight="normal" text-anchor="start" textLength="25.6" lengthAdjust="spacingAndGlyphs" stroke="#131722" stroke-width="0.3">HYPE</text>
<text x="52.4" y="7.8" font-size="11" fill="#131722" font-weight="normal" text-anchor="start" stroke="#131722" stroke-width="0.3">/</text>
<text x="59.75" y="7.8" font-size="11" fill="#131722" font-weight="normal" text-anchor="start" textLength="44" lengthAdjust="spacingAndGlyphs" stroke="#131722" stroke-width="0.3">TetherUS</text>
<text x="107.4" y="7.8" font-size="11" fill="#131722" font-weight="normal" text-anchor="start" stroke="#131722" stroke-width="0.3">·</text>
<text x="112.4" y="7.8" font-size="11" fill="#131722" font-weight="normal" text-anchor="start" textLength="12.6" lengthAdjust="spacingAndGlyphs" stroke="#131722" stroke-width="0.3">1D</text>
<text x="128.7" y="7.8" font-size="11" fill="#131722" font-weight="normal" text-anchor="start" stroke="#131722" stroke-width="0.3">·</text>
<text x="135.75" y="7.8" font-size="11" fill="#131722" font-weight="normal" text-anchor="start" textLength="56.25" lengthAdjust="spacingAndGlyphs" stroke="#131722" stroke-width="0.3">Binance.US</text>
<circle cx="204.5" cy="3.5" r="6" fill="#089981" fill-opacity="0.2"/>
<circle cx="204.5" cy="3.5" r="2.9" fill="#089981"/>
<text x="217" y="7.1" font-size="9.8" fill="#2a2a20" font-weight="normal" text-anchor="start" textLength="6" lengthAdjust="spacingAndGlyphs">O</text>
<text x="224.2" y="7.1" font-size="9.8" fill="#089981" font-weight="normal" text-anchor="start" textLength="22" lengthAdjust="spacingAndGlyphs">30.65</text>
<text x="252" y="7.1" font-size="9.8" fill="#2a2a20" font-weight="normal" text-anchor="start" textLength="5.3" lengthAdjust="spacingAndGlyphs">H</text>
<text x="258.5" y="7.1" font-size="9.8" fill="#089981" font-weight="normal" text-anchor="start" textLength="22" lengthAdjust="spacingAndGlyphs">32.02</text>
<text x="286" y="7.1" font-size="9.8" fill="#2a2a20" font-weight="normal" text-anchor="start" textLength="4" lengthAdjust="spacingAndGlyphs">L</text>
<text x="291.2" y="7.1" font-size="9.8" fill="#089981" font-weight="normal" text-anchor="start" textLength="22.3" lengthAdjust="spacingAndGlyphs">30.65</text>
<text x="319" y="7.1" font-size="9.8" fill="#2a2a20" font-weight="normal" text-anchor="start" textLength="5" lengthAdjust="spacingAndGlyphs">C</text>
<text x="325.2" y="7.1" font-size="9.8" fill="#089981" font-weight="normal" text-anchor="start" textLength="22" lengthAdjust="spacingAndGlyphs">31.09</text>
<text x="352" y="7.1" font-size="9.8" fill="#089981" font-weight="normal" text-anchor="start" textLength="23" lengthAdjust="spacingAndGlyphs">+0.62</text>
<text x="378" y="7.1" font-size="9.8" fill="#089981" font-weight="normal" text-anchor="start" textLength="35" lengthAdjust="spacingAndGlyphs">(+2.03%)</text>
<rect x="2.9" y="15.4" width="37.8" height="23.8" rx="4" fill="#ffffff" stroke="#f7525f" stroke-width="1"/>
<text x="21.8" y="25.4" font-size="9.2" fill="#f23645" font-weight="bold" text-anchor="middle" textLength="22.5" lengthAdjust="spacingAndGlyphs">31.02</text>
<text x="21.8" y="35.4" font-size="8.6" fill="#f23645" font-weight="normal" text-anchor="middle" textLength="17" lengthAdjust="spacingAndGlyphs">SELL</text>
<text x="47" y="29.1" font-size="7.6" fill="#3a3a30" font-weight="normal" text-anchor="start" textLength="14.2" lengthAdjust="spacingAndGlyphs">0.44</text>
<rect x="67.4" y="15.4" width="38.2" height="23.8" rx="4" fill="#ffffff" stroke="#5b8cf7" stroke-width="1"/>
<text x="86.5" y="25.4" font-size="9.2" fill="#2962ff" font-weight="bold" text-anchor="middle" textLength="22.5" lengthAdjust="spacingAndGlyphs">31.46</text>
<text x="86.5" y="35.4" font-size="8.6" fill="#2962ff" font-weight="normal" text-anchor="middle" textLength="14.5" lengthAdjust="spacingAndGlyphs">BUY</text>
<rect x="2.8" y="44.6" width="21.6" height="14.6" rx="2.5" fill="#fdf29c" stroke="#e4dba6" stroke-width="1"/>
<path d="M7.3 50.7 L10 53 L12.7 50.7" fill="none" stroke="#3a3a30" stroke-width="1.2" stroke-linecap="round" stroke-linejoin="round"/>
<text x="16.7" y="54.8" font-size="9" fill="#3a3a30" font-weight="normal" text-anchor="start">2</text>
</svg></body></html>
